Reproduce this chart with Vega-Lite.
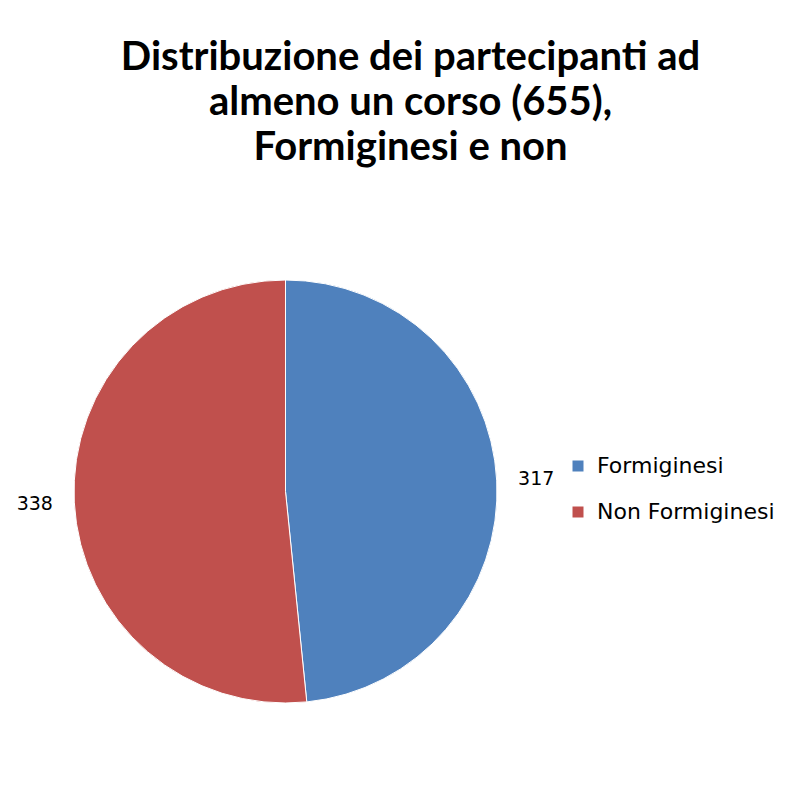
{
  "$schema": "https://vega.github.io/schema/vega-lite/v6.json",
  "width": 423,
  "height": 423,
  "padding": {"left": 16, "top": 38, "right": 0, "bottom": 0},
  "background": "white",
  "title": {
    "text": ["Distribuzione dei partecipanti ad", "almeno un corso (655),", "Formiginesi e non"],
    "font": "Lato",
    "fontWeight": "bold",
    "fontSize": 40,
    "lineHeight": 45,
    "color": "#000000",
    "anchor": "middle",
    "dx": 125,
    "offset": 110
  },
  "data": {
    "values": [
      {"categoria": "Formiginesi", "valore": 317},
      {"categoria": "Non Formiginesi", "valore": 338}
    ]
  },
  "encoding": {
    "theta": {"field": "valore", "type": "quantitative", "stack": true},
    "color": {
      "field": "categoria",
      "type": "nominal",
      "scale": {"domain": ["Formiginesi", "Non Formiginesi"], "range": ["#4F81BD", "#C0504D"]},
      "legend": {
        "title": null,
        "orient": "none",
        "legendX": 493,
        "legendY": 175,
        "symbolType": "square",
        "symbolSize": 121,
        "symbolStrokeWidth": 0,
        "labelFont": "DejaVu Sans",
        "labelFontSize": 22,
        "labelColor": "#000000",
        "labelLimit": 300,
        "rowPadding": 24,
        "labelOffset": 8
      }
    }
  },
  "layer": [
    {
      "mark": {"type": "arc", "radius": 211.5, "stroke": "white", "strokeWidth": 1}
    },
    {
      "mark": {"type": "text", "radius": 251, "font": "DejaVu Sans", "fontSize": 19, "color": "#000000", "align": "center", "baseline": "middle"},
      "encoding": {
        "text": {"field": "valore", "type": "quantitative"},
        "color": {"value": "#000000"}
      }
    }
  ],
  "config": {"view": {"stroke": null}}
}
